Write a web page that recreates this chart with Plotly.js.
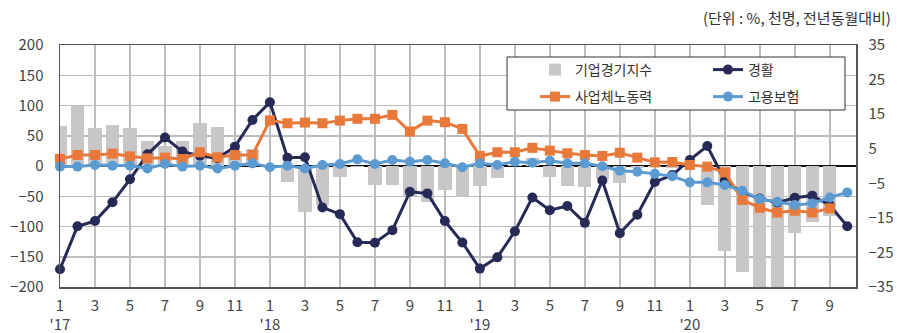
<!DOCTYPE html>
<html>
<head>
<meta charset="utf-8">
<script src="https://cdn.plot.ly/plotly-3.0.1.min.js"></script>
<style>html,body{margin:0;padding:0;background:#fff;}#chart{width:897px;height:333px;}</style>
</head>
<body>
<div id="chart"></div>
<script>
// Months (2017-01 .. 2020-10)
const months = [
  '2017-01','2017-02','2017-03','2017-04','2017-05','2017-06','2017-07','2017-08','2017-09','2017-10','2017-11','2017-12',
  '2018-01','2018-02','2018-03','2018-04','2018-05','2018-06','2018-07','2018-08','2018-09','2018-10','2018-11','2018-12',
  '2019-01','2019-02','2019-03','2019-04','2019-05','2019-06','2019-07','2019-08','2019-09','2019-10','2019-11','2019-12',
  '2020-01','2020-02','2020-03','2020-04','2020-05','2020-06','2020-07','2020-08','2020-09','2020-10'
];
// 기업경기지수 (right axis, %)
const bsi = [
  11.6, 17.4, 10.9, 11.9, 11.1, 7.2, 5.9, 7.2, 12.5, 11.2, 4.4, 4.8,
  -0.3, -4.6, -13.3, -11.4, -3.3, -0.4, -5.6, -5.6, -8.8, -10.3, -7.0, -9.1,
  -5.7, -3.6, 0.4, 2.2, -3.3, -5.7, -6.0, -3.9, -4.8, -0.5, -0.4, -0.5,
  0.0, -11.3, -24.5, -30.8, -37.6, -36.8, -19.3, -16.3, -14.4, null
];
// 경활 (left axis, 천명)
const labourForce = [
  -170.7, -99.5, -91, -60, -22, 19.3, 47, 23.8, 17, 12.7, 32, 76,
  105.5, 13.8, 14.4, -68.5, -79.6, -126, -127, -106, -42.6, -45.3, -91, -126.5,
  -169.6, -151, -108, -52, -73, -66, -94, -24, -111, -80.5, -26.5, -15,
  10, 33, -24, -44, -53.6, -60.8, -52.5, -49, -64.6, -99.5
];
// 사업체노동력 (left axis, 천명)
const establishment = [
  11.6, 18.2, 18.2, 20.4, 16, 12.7, 13.8, 11.6, 22.7, 14.4, 18.2, 18.2,
  75.5, 70.7, 71.8, 70.7, 75, 78, 78, 84.5, 57, 75, 72.4, 61.3,
  16.6, 22.7, 22.7, 30, 25.4, 21, 18.2, 16.6, 22, 13.8, 6, 6.6,
  1.7, -1, -10.5, -56, -69, -77, -74, -76.8, -70, null
];
// 고용보험 (left axis, 천명)
const insurance = [
  -1, -1, 1.7, 0.6, 0.6, -4, 3.3, -1, 0.6, -4, 0.6, 4.4,
  -2.2, 0.6, -4, 1.7, 3.3, 11, 3.3, 10, 7.2, 10, 4.4, -2.2,
  4.4, 1.7, 7.2, 5.5, 8.8, 4.4, 4.4, -0.5, -7.7, -9.4, -13, -17,
  -27, -27, -31.5, -41, -54.7, -59, -64.6, -62, -52, -43.6
];
const xTickVals = months.filter((m, i) => i % 2 === 0);
const xTickText = [
  "1<br>'17","3","5","7","9","11",
  "1<br>'18","3","5","7","9","11",
  "1<br>'19","3","5","7","9","11",
  "1<br>'20","3","5","7","9"
];
const leftTicks = [-200,-150,-100,-50,0,50,100,150,200];
const rightTicks = [-35,-25,-15,-5,5,15,25,35];

const FONT = '"Noto Sans CJK KR", "Noto Sans", sans-serif';
const navy = '#272a56', orange = '#e8793b', blue = '#5b9bd1', gray = '#c8c6c7';

const traces = [
  {type:'bar', name:'기업경기지수', x:months, y:bsi, yaxis:'y', legend:'legend', marker:{color:gray}, width:0.76, hoverinfo:'skip'},
  {type:'scatter', mode:'lines+markers', name:'경활', x:months, y:labourForce, yaxis:'y2', legend:'legend',
   line:{color:navy, width:3}, marker:{color:navy, size:10, symbol:'circle'}, cliponaxis:false},
  {type:'scatter', mode:'lines+markers', name:'사업체노동력', x:months, y:establishment, yaxis:'y2', legend:'legend2',
   line:{color:orange, width:3}, marker:{color:orange, size:10, symbol:'square'}, cliponaxis:false},
  {type:'scatter', mode:'lines+markers', name:'고용보험', x:months, y:insurance, yaxis:'y2', legend:'legend2',
   line:{color:blue, width:3}, marker:{color:blue, size:10, symbol:'circle'}, cliponaxis:false}
];

const legendBase = {orientation:'h', xanchor:'left', yanchor:'middle',
  entrywidth:128, entrywidthmode:'pixels', traceorder:'normal',
  bgcolor:'rgba(0,0,0,0)', borderwidth:0, font:{size:14, color:'#333'}};

const layout = {
  width:897, height:333,
  margin:{l:60, r:41, t:45, b:46, pad:0},
  paper_bgcolor:'#fff', plot_bgcolor:'#fff',
  font:{family:FONT, size:15, color:'#444'},
  showlegend:true,
  bargap:0,
  xaxis:{type:'category', range:[0, 45.5], tickvals:xTickVals, ticktext:xTickText,
    showgrid:true, gridcolor:'#bdbdbd', gridwidth:1.5,
    showline:true, linecolor:'#555', linewidth:1.5, mirror:true,
    ticks:'', ticklabelstandoff:4, tickfont:{size:15, color:'#444'}, fixedrange:true},
  yaxis:{side:'right', range:[-35,35], tickvals:rightTicks, ticktext:rightTicks.map(v=>v<0?'\u2212'+Math.abs(v):String(v)),
    showgrid:false, zeroline:false, showline:true, linecolor:'#555', linewidth:1.5,
    ticks:'', ticklabelstandoff:8, tickfont:{size:15, color:'#444'}},
  yaxis2:{overlaying:'y', side:'left', range:[-200,200], tickvals:leftTicks,
    showgrid:true, gridcolor:'#bdbdbd', gridwidth:1.5,
    zeroline:true, zerolinecolor:'#111', zerolinewidth:1.5,
    showline:true, linecolor:'#555', linewidth:1.5,
    ticks:'', ticklabelstandoff:12, tickfont:{size:15, color:'#444'}},
  legend:Object.assign({}, legendBase, {x:0.5967, y:0.8967}),
  legend2:Object.assign({}, legendBase, {x:0.5967, y:0.7851}),
  shapes:[{type:'rect', xref:'paper', yref:'paper', x0:0.5616, x1:0.9862, y0:0.7314, y1:0.9504,
    fillcolor:'#fff', line:{color:'#333', width:1}, layer:'above'}],
  annotations:[{text:'(단위 : %, 천명, 전년동월대비)', xref:'paper', yref:'paper',
    x:1.0465, xanchor:'right', y:1.112, yanchor:'middle', showarrow:false,
    font:{size:15, color:'#333'}}]
};

Plotly.newPlot('chart', traces, layout, {displayModeBar:false, staticPlot:true});
</script>
</body>
</html>
